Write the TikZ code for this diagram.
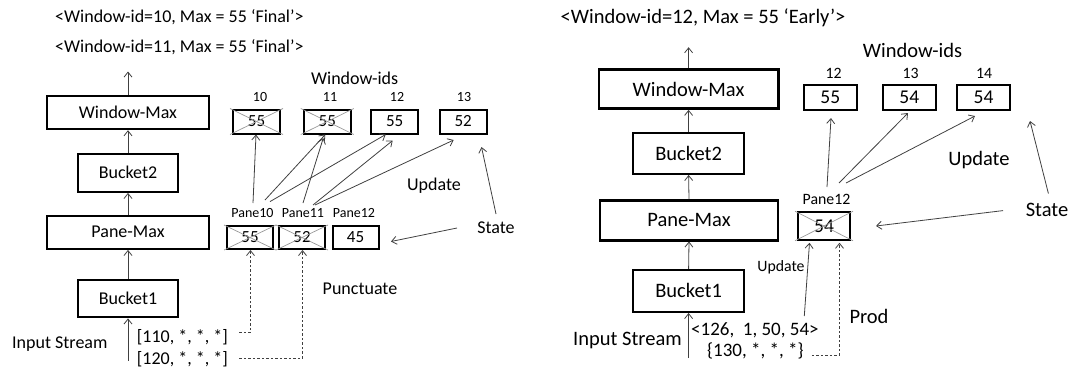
\documentclass[tikz,border=0pt]{standalone}
\usepackage{fontspec}
\setmainfont{Carlito}
\usetikzlibrary{arrows.meta}
\tikzset{
  lA/.style={font=\fontsize{18}{20}\selectfont},
  lB/.style={font=\fontsize{20.5}{22}\selectfont},
  lC/.style={font=\fontsize{19}{21}\selectfont},
  nA/.style={font=\fontsize{17}{19}\selectfont},
  nB/.style={font=\fontsize{19.5}{21}\selectfont},
  sA/.style={font=\fontsize{14}{16}\selectfont},
  sB/.style={font=\fontsize{15.8}{17}\selectfont},
  stage/.style={draw, line width=2.4pt, inner sep=0pt},
  cell/.style={draw, line width=2pt, inner sep=0pt},
  txt/.style={inner sep=0pt},
  arr/.style={draw=black!75, line width=0.8pt, -{Straight Barb[length=5pt,width=8pt]}},
  darr/.style={arr, dash pattern=on 2.5pt off 2pt},
  xline/.style={draw=black!40, line width=0.7pt},
}
% grey "X" over a cell whose value has been retired
\newcommand\crossout[1]{%
  \draw[xline] ([xshift=-2]#1.north west) -- ([xshift=2]#1.south east);
  \draw[xline] ([xshift=-2]#1.south west) -- ([xshift=2]#1.north east);}
\begin{document}
\begin{tikzpicture}[x=1pt,y=-1pt]
\useasboundingbox (0,0) rectangle (1076,367);

% ---------------- left: punctuation-driven evaluation ----------------
\node[stage,lA,minimum width=162,minimum height=33] (wmL) at (128,112.5) {Window-Max};
\node[stage,lA,minimum width=100,minimum height=38] (b2L) at (128,172.7) {Bucket2};
\node[stage,lA,minimum width=162,minimum height=33] (pmL) at (128,232.2) {Pane-Max};
\node[stage,lA,minimum width=100,minimum height=37] (b1L) at (128,298.7) {Bucket1};
\coordinate (outL) at (128,71.5);
\coordinate (inL) at (128,360.5);
\draw[arr] (inL) -- (b1L.south);
\draw[arr] (b1L.north) -- (pmL.south);
\draw[arr] (pmL.north) -- (b2L.south);
\draw[arr] (b2L.north) -- (wmL.south);
\draw[arr] (wmL.north) -- (outL);

\node[txt,lA,anchor=base west] (finA) at (55,22.3) {<Window-id=10, Max = 55 ‘Final’>};
\node[txt,lA,anchor=base west] (finB) at (55,52.3) {<Window-id=11, Max = 55 ‘Final’>};

\node[txt,lA,anchor=base] (widsL) at (354.7,84.3) {Window-ids};
\node[txt,sA,anchor=base] (i10) at (260,101.9) {10};
\node[txt,sA,anchor=base] (i11) at (330,101.9) {11};
\node[txt,sA,anchor=base] (i12) at (397,101.9) {12};
\node[txt,sA,anchor=base] (i13) at (464,101.9) {13};
\node[cell,nA,minimum width=47,minimum height=24] (w10) at (256.5,121.5) {55};
\node[cell,nA,minimum width=47,minimum height=24] (w11) at (327.3,121.5) {55};
\node[cell,nA,minimum width=47,minimum height=24] (w12) at (394.7,121.5) {55};
\node[cell,nA,minimum width=47,minimum height=24] (w13) at (463.2,121.5) {52};
\crossout{w10}
\crossout{w11}

\node[txt,sA,anchor=base] (pl10) at (252.5,217.2) {Pane10};
\node[txt,sA,anchor=base] (pl11) at (303,217.2) {Pane11};
\node[txt,sA,anchor=base] (pl12) at (354,217.2) {Pane12};
\node[cell,nA,minimum width=46,minimum height=23] (p10) at (250,237.5) {55};
\node[cell,nA,minimum width=46,minimum height=23] (p11) at (302,237.5) {52};
\node[cell,nA,minimum width=46,minimum height=23] (p12) at (355.5,237.5) {45};
\crossout{p10}
\crossout{p11}

% pane partials feeding the windows they belong to
\coordinate (s1) at (253,203);
\coordinate (s2) at (265,200);
\coordinate (s3) at (270,201.6);
\coordinate (s4) at (303,203);
\coordinate (s5) at (313,205);
\coordinate (s6) at (315,205);
\draw[arr] (s1) -- ([xshift=-0.5]w10.south);
\draw[arr] (s2) -- ([xshift=-2]w11.south);
\draw[arr] (s3) -- ([xshift=-9]w12.south);
\draw[arr] (s4) -- ([xshift=-4,yshift=-3.5]w11.south);
\draw[arr] (s5) -- ([xshift=-2,yshift=-6]w12.south);
\draw[arr] (s6) -- ([xshift=-9.5,yshift=-5.5]w13.south);

\node[txt,lA,anchor=base] (updL) at (434,190.5) {Update};
\node[txt,lA,anchor=base] (stL) at (496,233.3) {State};
\coordinate (stLa) at (457,228);
\coordinate (stLb) at (496,214);
\coordinate (stLt) at (481.5,147);
\draw[arr] (stLa) -- ([xshift=11.5,yshift=-4]p12.east);
\draw[arr] (stLb) -- (stLt);

\node[txt,lA,anchor=base] (punL) at (360,294.8) {Punctuate};
\node[txt,lA,anchor=base west] (inLbl) at (12,348.4) {Input Stream};
\node[txt,lA,anchor=base west] (pu1) at (136.7,342.8) {[110, *, *, *]};
\node[txt,lA,anchor=base west] (pu2) at (136.7,364.6) {[120, *, *, *]};
\coordinate (d1) at (239.3,332.3);
\coordinate (d2) at (239.3,358);
\draw[darr] (d1) -| ([xshift=0.5]p10.south);
\draw[darr] (d2) -| ([xshift=0.5]p11.south);

% ---------------- right: early result from a partial pane ----------------
\node[stage,lB,minimum width=179.5,minimum height=39.3] (wmR) at (688.6,89) {Window-Max};
\node[stage,lB,minimum width=111,minimum height=40.7] (b2R) at (688.6,153.4) {Bucket2};
\node[stage,lB,minimum width=178.5,minimum height=40] (pmR) at (689,220.3) {Pane-Max};
\node[stage,lB,minimum width=111,minimum height=41.8] (b1R) at (688.6,290.9) {Bucket1};
\coordinate (outR) at (688.6,47.2);
\coordinate (inR) at (688.6,358);
\draw[arr] (inR) -- (b1R.south);
\draw[arr] (b1R.north) -- (pmR.south);
\draw[arr] (pmR.north) -- (b2R.south);
\draw[arr] (b2R.north) -- (wmR.south);
\draw[arr] (wmR.north) -- (outR);

\node[txt,lB,anchor=base west] (early) at (560.5,23.6) {<Window-id=12, Max = 55 ‘Early’>};

\node[txt,lB,anchor=base] (widsR) at (912.5,57.9) {Window-ids};
\node[txt,sB,anchor=base] (j12) at (833.5,78.7) {12};
\node[txt,sB,anchor=base] (j13) at (910.7,78.7) {13};
\node[txt,sB,anchor=base] (j14) at (984,78.7) {14};
\node[cell,nB,minimum width=52.5,minimum height=25] (w12R) at (830.3,97.5) {55};
\node[cell,nB,minimum width=52.5,minimum height=25] (w13R) at (909.3,97.5) {54};
\node[cell,nB,minimum width=52.5,minimum height=25] (w14R) at (983.5,97.5) {54};

\node[txt,sB,anchor=base] (pl12R) at (826.5,204.8) {Pane12};
\node[cell,nB,minimum width=52,minimum height=27.5] (p12R) at (824,226) {54};
\crossout{p12R}

\coordinate (r1) at (827,187);
\coordinate (r2) at (839,183);
\coordinate (r3) at (846,183);
\draw[arr] (r1) -- ([xshift=0.7,yshift=-7]w12R.south);
\draw[arr] (r2) -- ([xshift=-1.3,yshift=-2]w13R.south);
\draw[arr] (r3) -- ([xshift=-8.5,yshift=-5]w14R.south);

\node[txt,lB,anchor=base] (updR) at (979,165.9) {Update};
\node[txt,lB,anchor=base] (stR) at (1047,216.2) {State};
\coordinate (stRa) at (1003,210.6);
\coordinate (stRb) at (1048.4,193.5);
\coordinate (stRt) at (1030,121);
\draw[arr] (stRa) -- ([xshift=25]p12R.east);
\draw[arr] (stRb) -- (stRt);

\node[txt,sB,anchor=base] (updS) at (781,271.9) {Update};
\node[txt,lB,anchor=base] (prod) at (869,323.6) {Prod};
\node[txt,lB,anchor=base west] (inRlbl) at (573,345.6) {Input Stream};
\node[txt,lC,anchor=base west] (tup) at (691,335.7) {<126,\ \ 1, 50, 54>};
\node[txt,lC,anchor=base west] (prm) at (707,356.3) {\{130, *, *, *\}};
\coordinate (u0) at (804.3,316);
\coordinate (d3) at (811.8,355);
\draw[arr] (u0) -- ([xshift=-14.5,yshift=-2]p12R.south);
\draw[darr] (d3) -| ([xshift=15.5,yshift=-2]p12R.south);
\end{tikzpicture}
\end{document}
